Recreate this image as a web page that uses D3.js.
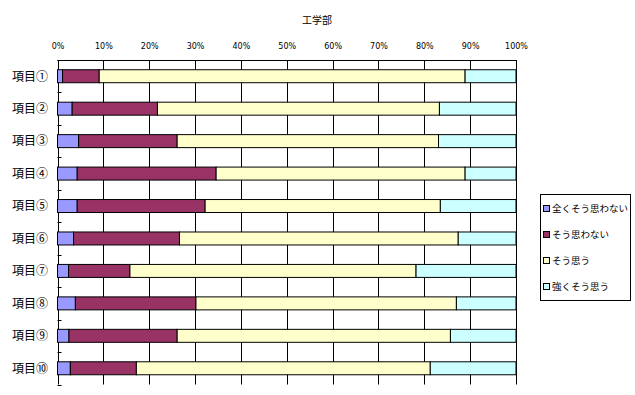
<!DOCTYPE html>
<html>
  <head>
    <meta charset="utf-8" />
    <title>工学部</title>
    <style>
      html, body {
        margin: 0;
        padding: 0;
        background: white;
      }
      text {
        font-family: "Noto Sans CJK JP", sans-serif;
        fill: black;
      }
      .pct text {
        font-family: "DejaVu Sans", sans-serif;
        font-size: 8px;
      }
    </style>
  </head>
  <body>
    <script src="https://d3js.org/d3.v7.min.js"></script>
    <script>
      var categories = ["項目①", "項目②", "項目③", "項目④", "項目⑤",
                        "項目⑥", "項目⑦", "項目⑧", "項目⑨", "項目⑩"];
      var seriesNames = ["全くそう思わない", "そう思わない", "そう思う", "強くそう思う"];
      var colors = ["#9999ff", "#993366", "#ffffcc", "#ccffff"];

      // percent per item
      var notAtAll = [1.1, 3.2, 4.6, 4.3, 4.3, 3.5, 2.4, 3.9, 2.5, 2.8];
      var disagree = [8.0, 18.6, 21.5, 30.3, 27.9, 23.1, 13.4, 26.3, 23.6, 14.4];
      var agree    = [79.8, 61.5, 57.0, 54.3, 51.3, 60.8, 62.4, 56.8, 59.6, 64.1];
      var strongly = [11.1, 16.7, 16.9, 11.1, 16.5, 12.6, 21.8, 13.0, 14.3, 18.7];

      var tickValues = [0, 0.1, 0.2, 0.3, 0.4, 0.5, 0.6, 0.7, 0.8, 0.9, 1];

      var w = 635, h = 395;
      var plotLeft = 57.5, plotRight = 516, plotTop = 60, plotBottom = 384.5;

      var svg = d3.select("body").append("svg")
        .attr("width", w)
        .attr("height", h);

      var rows = categories.map(function(c, i) {
        return { cat: c, vals: [notAtAll[i], disagree[i], agree[i], strongly[i]] };
      });
      rows.forEach(function(r) {
        var tot = d3.sum(r.vals);
        r.vals = r.vals.map(function(v) { return v / tot; });
      });

      var table = rows.map(function(r) {
        var o = { cat: r.cat };
        seriesNames.forEach(function(s, k) { o[s] = r.vals[k]; });
        return o;
      });
      var stacked = d3.stack().keys(seriesNames)(table);

      var x = d3.scaleLinear().domain([0, 1]).range([plotLeft, plotRight]);
      var y = d3.scaleBand().domain(categories).range([plotTop, plotBottom])
        .paddingInner(0.6).paddingOuter(0.3);
      var yEdge = d3.scaleBand().domain(categories).range([plotTop, plotBottom]);

      // title
      svg.append("text")
        .attr("x", 317)
        .attr("y", 24)
        .attr("text-anchor", "middle")
        .style("font-size", "10px")
        .text("工学部");

      // top axis labels
      var xAxis = d3.axisTop(x)
        .tickValues(tickValues)
        .tickSize(0)
        .tickPadding(0)
        .tickFormat(d3.format(".0%"));
      svg.append("g")
        .attr("class", "pct")
        .attr("transform", "translate(0," + 49 + ")")
        .call(xAxis)
        .select(".domain").remove();

      // grid
      svg.append("g").selectAll("line")
        .data(tickValues)
        .enter().append("line")
        .attr("x1", function(d) { return Math.round(x(d)) + 0.5; })
        .attr("x2", function(d) { return Math.round(x(d)) + 0.5; })
        .attr("y1", plotTop)
        .attr("y2", plotBottom)
        .attr("stroke", "black")
        .attr("stroke-width", 1);

      svg.append("line")
        .attr("x1", x(0)).attr("x2", x(1))
        .attr("y1", plotTop + 0.5).attr("y2", plotTop + 0.5)
        .attr("stroke", "black");

      // bars
      svg.selectAll(".series")
        .data(stacked)
        .enter().append("g")
        .attr("class", "series")
        .attr("fill", function(d, i) { return colors[i]; })
        .selectAll("rect")
        .data(function(d) { return d; })
        .enter().append("rect")
        .attr("x", function(d) { return x(d[0]); })
        .attr("width", function(d) { return x(d[1]) - x(d[0]); })
        .attr("y", function(d) { return y(d.data.cat); })
        .attr("height", y.bandwidth())
        .attr("stroke", "black")
        .attr("stroke-width", 1);

      // left axis ticks at category edges
      var edges = categories.map(function(c) { return yEdge(c); }).concat([plotBottom]);
      svg.append("g").selectAll("line")
        .data(edges)
        .enter().append("line")
        .attr("x1", x(0)).attr("x2", x(0) + 4)
        .attr("y1", function(d) { return Math.round(d) + 0.5; })
        .attr("y2", function(d) { return Math.round(d) + 0.5; })
        .attr("stroke", "black");

      // category labels
      svg.append("g").selectAll("text")
        .data(categories)
        .enter().append("text")
        .attr("x", 48)
        .attr("y", function(d) { return y(d) + y.bandwidth() / 2; })
        .attr("dy", "0.36em")
        .attr("text-anchor", "end")
        .style("font-size", "12px")
        .text(function(d) { return d; });

      // legend
      var lg = svg.append("g");
      lg.append("rect")
        .attr("x", 540.5).attr("y", 194.5)
        .attr("width", 90).attr("height", 106)
        .attr("fill", "white")
        .attr("stroke", "black");
      var items = lg.selectAll(".item")
        .data(seriesNames)
        .enter().append("g")
        .attr("class", "item")
        .attr("transform", function(d, i) { return "translate(543," + (208.5 + i * 26) + ")"; });
      items.append("rect")
        .attr("x", 0.5).attr("y", -3)
        .attr("width", 6).attr("height", 6)
        .attr("fill", function(d, i) { return colors[i]; })
        .attr("stroke", "black");
      items.append("text")
        .attr("x", 9)
        .attr("dy", "0.36em")
        .style("font-size", "9.5px")
        .text(function(d) { return d; });
    </script>
  </body>
</html>
